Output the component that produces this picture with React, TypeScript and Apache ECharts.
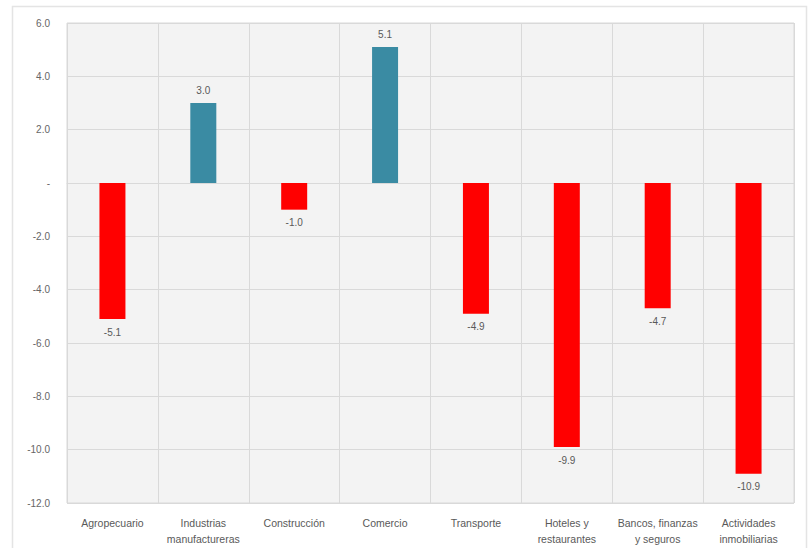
import React, { useEffect, useRef } from "react";
import * as echarts from "echarts";

const categories = [
  "Agropecuario",
  "Industrias\nmanufactureras",
  "Construcción",
  "Comercio",
  "Transporte",
  "Hoteles y\nrestaurantes",
  "Bancos, finanzas\ny seguros",
  "Actividades\ninmobiliarias",
];
const values = [-5.1, 3.0, -1.0, 5.1, -4.9, -9.9, -4.7, -10.9];
const positiveColor = "#3a8ba3";
const negativeColor = "#ff0000";

export default function App() {
  const ref = useRef<HTMLDivElement>(null);
  useEffect(() => {
    if (!ref.current) return;
    const chart = echarts.init(ref.current, null, { renderer: "svg" });
    chart.setOption({
      animation: false,
      backgroundColor: "#ffffff",
      graphic: [
        {
          type: "rect",
          shape: { x: 12.5, y: 6.5, width: 794, height: 560 },
          style: { fill: "none", stroke: "#e4e4e4", lineWidth: 1.5 },
          silent: true,
        },
      ],
      grid: {
        left: 67,
        right: 18,
        top: 23,
        bottom: 45,
        show: true,
        backgroundColor: "#f3f3f3",
        borderColor: "#d9d9d9",
        borderWidth: 1,
      },
      xAxis: {
        type: "category",
        data: categories,
        axisTick: { show: false },
        axisLine: { lineStyle: { color: "#d9d9d9" } },
        splitLine: { show: true, lineStyle: { color: "#d9d9d9", width: 1 } },
        axisLabel: {
          interval: 0,
          fontFamily: "Liberation Sans, Arial, sans-serif",
          fontSize: 10.5,
          color: "#595959",
          lineHeight: 16,
          margin: 12,
        },
      },
      yAxis: {
        type: "value",
        min: -12,
        max: 6,
        interval: 2,
        axisLine: { show: false },
        axisTick: { show: false },
        splitLine: { lineStyle: { color: "#d9d9d9", width: 1 } },
        axisLabel: {
          fontFamily: "Liberation Sans, Arial, sans-serif",
          fontSize: 10,
          color: "#666666",
          margin: 17,
          formatter: (v: number) => (v === 0 ? "-" : v.toFixed(1)),
        },
      },
      series: [
        {
          type: "bar",
          barWidth: 26,
          data: values.map((v) => ({
            value: v,
            itemStyle: { color: v >= 0 ? positiveColor : negativeColor },
            label: {
              show: true,
              position: v >= 0 ? "top" : "bottom",
              distance: 8,
              formatter: (p: any) => Number(p.value).toFixed(1),
              fontFamily: "Liberation Sans, Arial, sans-serif",
              fontSize: 10,
              color: "#595959",
            },
          })),
        },
      ],
    });
    return () => chart.dispose();
  }, []);
  return (
    <div
      ref={ref}
      style={{ position: "fixed", left: 0, top: 0, width: 812, height: 548 }}
    />
  );
}
